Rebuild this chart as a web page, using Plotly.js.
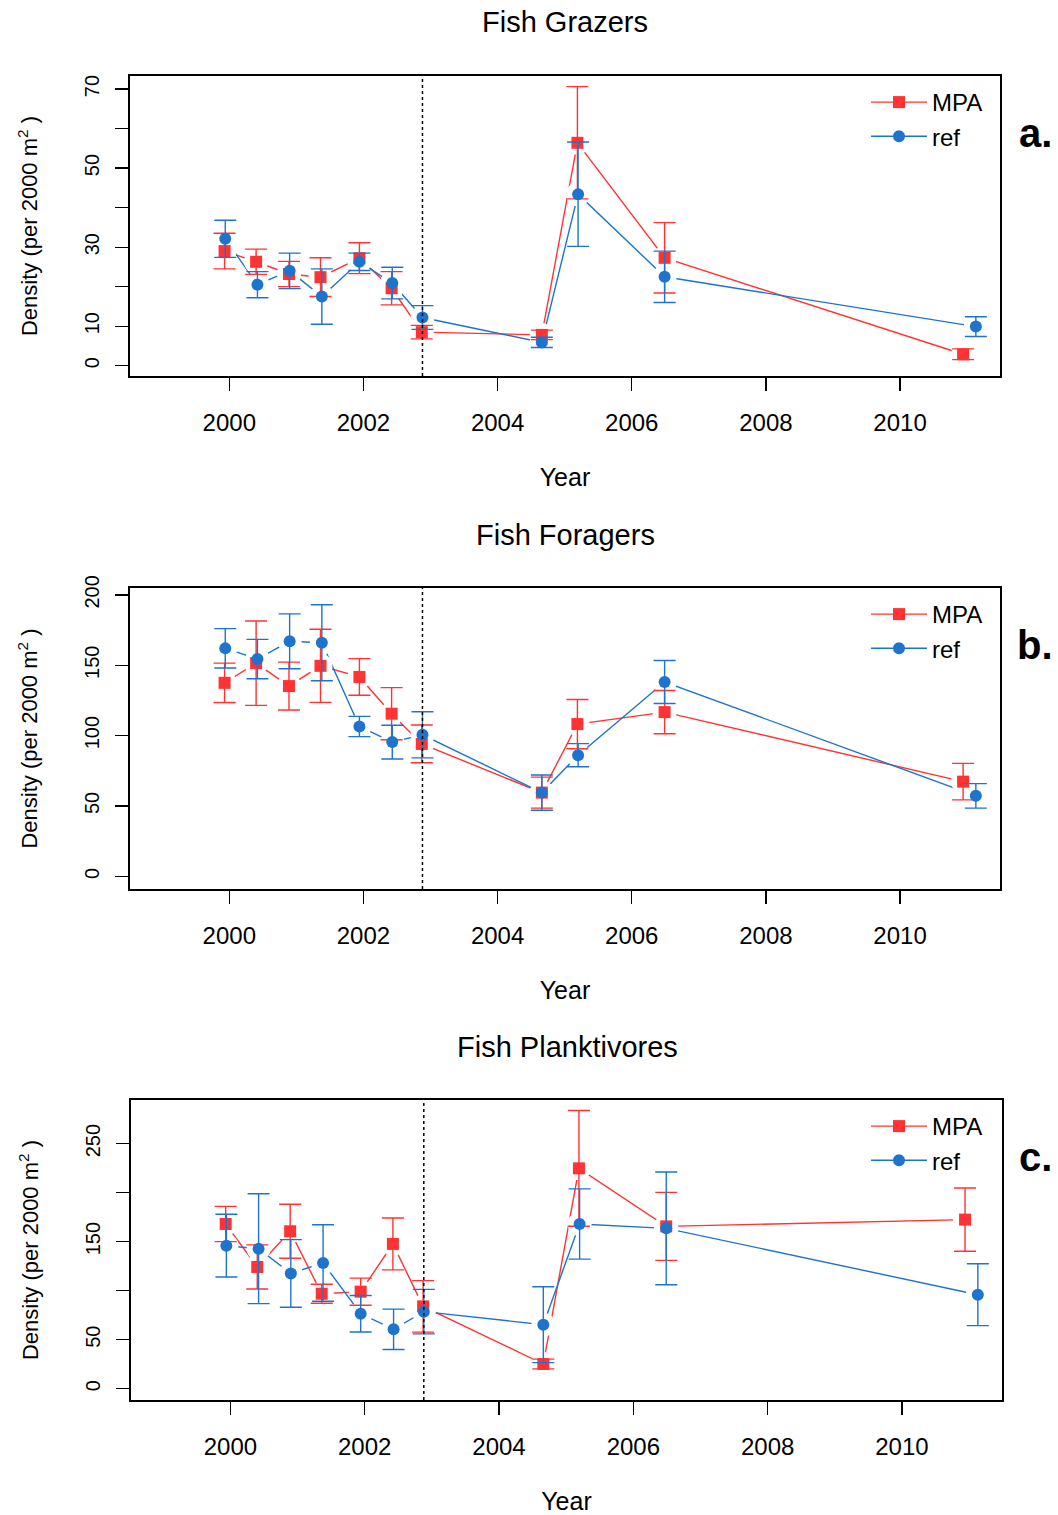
<!DOCTYPE html>
<html><head><meta charset="utf-8">
<script src="https://cdn.plot.ly/plotly-3.0.1.min.js"></script>
<style>html,body{margin:0;padding:0;background:#fff}</style>
</head><body>
<div id="chart" style="width:1058px;height:1515px"></div>
<script>
// ---- data ----
const panelTitles = ["Fish Grazers", "Fish Foragers", "Fish Planktivores"];
const panelLetters = ["a.", "b.", "c."];
const seriesNames = ["MPA", "ref"];
const xTitle = "Year";
const yTitle = "Density (per 2000 m<sup>2</sup> )";
const yearMPA = [1999.93, 2000.40, 2000.89, 2001.36, 2001.94, 2002.42, 2002.87, 2004.66, 2005.19, 2006.49, 2010.94];
const yearRef = [1999.94, 2000.42, 2000.90, 2001.38, 2001.94, 2002.43, 2002.88, 2004.66, 2005.20, 2006.49, 2011.13];
const mpaStart = 2002.88;

const grazersMPA   = [29.0, 26.3, 23.2, 22.4, 27.2, 19.6, 8.5, 7.8, 56.4, 27.3, 2.9];
const grazersMPAse = [4.5, 3.2, 3.2, 4.9, 3.9, 4.2, 1.7, 1.2, 14.2, 8.9, 1.35];
const grazersRef   = [32.1, 20.5, 24.0, 17.5, 26.3, 20.9, 12.2, 5.9, 43.4, 22.5, 9.9];
const grazersRefse = [4.7, 3.3, 4.5, 7.0, 2.2, 4.0, 3.0, 1.3, 13.2, 6.5, 2.5];

const foragersMPA   = [137.5, 151.5, 135.2, 149.6, 141.7, 115.6, 94.1, 59.5, 108.2, 116.7, 67.3];
const foragersMPAse = [14, 30, 17, 26, 13, 18.5, 13.4, 11, 17.5, 15.4, 13];
const foragersRef   = [162.0, 154.4, 167.0, 166.0, 106.5, 95.4, 100.6, 59.5, 86.1, 138.1, 57.2];
const foragersRefse = [14, 14, 19.5, 27, 7.2, 12, 16.4, 12.5, 8.2, 15.3, 8.7];

const plankMPA   = [168.0, 124.2, 160.6, 96.9, 99.0, 147.7, 84.0, 25.2, 224.8, 165.6, 172.5];
const plankMPAse = [18, 22.5, 27.5, 9.7, 13.8, 26.5, 26.3, 5, 59, 34.7, 32.3];
const plankRef   = [145.9, 142.8, 117.6, 128.3, 76.5, 60.6, 78.6, 65.3, 168.0, 163.6, 95.9];
const plankRefse = [32, 56, 34.5, 39, 18.6, 20.6, 22.7, 38.7, 35.8, 57.5, 31.5];

const xTicks = [2000, 2002, 2004, 2006, 2008, 2010];
const yTicksA = [0, 10, 30, 50, 70];
const yMinorA = [20, 40, 60];
const yTicksB = [0, 50, 100, 150, 200];
const yMinorB = [];
const yTicksC = [0, 50, 150, 250];
const yMinorC = [100, 200];

// ---- styling / layout ----
const W = 1058, H = 1515;
const RED = "#FF3333", BLUE = "#1E74CD";
const FONT = "Liberation Sans, Arial, Helvetica, sans-serif";
const panels = [
  {mpa: grazersMPA, mpase: grazersMPAse, ref: grazersRef, refse: grazersRefse,
   yt: yTicksA, ym: yMinorA, yr: [-2.6, 73.3], box: [130, 1000, 76, 376], cx: 565, titleY: 22},
  {mpa: foragersMPA, mpase: foragersMPAse, ref: foragersRef, refse: foragersRefse,
   yt: yTicksB, ym: yMinorB, yr: [-9.0, 204.9], box: [130, 1000, 588, 889], cx: 565, titleY: 535},
  {mpa: plankMPA, mpase: plankMPAse, ref: plankRef, refse: plankRefse,
   yt: yTicksC, ym: yMinorC, yr: [-11.5, 294.5], box: [131, 1002, 1100, 1400], cx: 567, titleY: 1047}
];

const px = v => v / W;
const py = v => 1 - v / H;

const traces = [];
const layout = {
  width: W, height: H,
  margin: {l: 0, r: 0, t: 0, b: 0},
  paper_bgcolor: "#fff", plot_bgcolor: "#fff",
  font: {family: FONT, color: "#000"},
  title: {text: panelTitles[0], x: px(panels[0].cx), xanchor: "center", xref: "paper",
          y: py(panels[0].titleY), yanchor: "middle", yref: "container", font: {size: 29, family: FONT}},
  showlegend: true,
  annotations: [], shapes: []
};

panels.forEach((p, i) => {
  const n = i === 0 ? "" : String(i + 1);
  const xa = "x" + n, ya = "y" + n;
  const lg = "legend" + n;
  const series = [
    {name: seriesNames[0], xs: yearMPA, ys: p.mpa, es: p.mpase, color: RED, symbol: "square", size: 12},
    {name: seriesNames[1], xs: yearRef, ys: p.ref, es: p.refse, color: BLUE, symbol: "circle", size: 12}
  ];
  // connecting lines (legend entries)
  series.forEach(s => traces.push({
    type: "scatter", mode: "lines+markers", name: s.name, x: s.xs, y: s.ys,
    xaxis: xa, yaxis: ya, legend: lg, hoverinfo: "skip",
    line: {color: s.color, width: 1.4}, marker: {color: s.color, symbol: s.symbol, size: s.size}
  }));
  // white halos that open the line around each point (R type = "b")
  series.forEach(s => traces.push({
    type: "scatter", mode: "markers", name: s.name, x: s.xs, y: s.ys, xaxis: xa, yaxis: ya,
    showlegend: false, hoverinfo: "skip",
    marker: {color: "#fff", symbol: "circle", size: 24, line: {width: 0}}
  }));
  // points with error bars
  series.forEach(s => traces.push({
    type: "scatter", mode: "markers", name: s.name, x: s.xs, y: s.ys,
    xaxis: xa, yaxis: ya, showlegend: false,
    marker: {color: s.color, symbol: s.symbol, size: s.size},
    error_y: {type: "data", array: s.es, visible: true, color: s.color, thickness: 1.4, width: 11}
  }));

  layout["xaxis" + n] = {
    domain: [px(p.box[0]), px(p.box[1])], anchor: ya, range: [1998.52, 2011.49],
    title: {text: xTitle, font: {size: 25, family: FONT}, standoff: 34},
    tickvals: xTicks, ticktext: xTicks.map(String), ticks: "outside", ticklen: 13, tickwidth: 1.3,
    tickcolor: "#000", showline: true, linecolor: "#000", linewidth: 2, mirror: true,
    showgrid: false, zeroline: false, tickfont: {size: 24, family: FONT}, ticklabelstandoff: 11
  };
  layout["yaxis" + n] = {
    domain: [py(p.box[3]), py(p.box[2])], anchor: xa, range: p.yr,
    title: {text: yTitle, font: {size: 22, family: FONT}, standoff: 37},
    tickvals: p.yt, ticktext: p.yt.map(String), ticks: "outside", ticklen: 13, tickwidth: 1.3, tickangle: -90,
    tickcolor: "#000", showline: true, linecolor: "#000", linewidth: 2, mirror: true,
    showgrid: false, zeroline: false, tickfont: {size: 20, family: FONT}, ticklabelstandoff: 8,
    minor: {tickvals: p.ym, ticks: "outside", ticklen: 13, tickwidth: 1.3, tickcolor: "#000", showgrid: false}
  };
  layout[lg] = {
    x: px(866), y: py(p.box[2] + 4), xanchor: "left", yanchor: "top", itemwidth: 56,
    bgcolor: "rgba(0,0,0,0)", borderwidth: 0, font: {size: 24, family: FONT}, tracegroupgap: 0
  };
  layout.shapes.push({type: "line", xref: xa, yref: ya + " domain", x0: mpaStart, x1: mpaStart, y0: 0, y1: 1,
    layer: "above", line: {color: "#000", width: 1.5, dash: "dot"}});
  if (i > 0) {
    layout.annotations.push(
      {text: panelTitles[i], xref: "paper", yref: "paper", x: px(p.cx), y: py(p.titleY), showarrow: false,
       xanchor: "center", yanchor: "middle", font: {size: 29, family: FONT}});
  }
  layout.annotations.push(
    {text: "<b>" + panelLetters[i] + "</b>", xref: "paper", yref: "paper", x: px(1035), y: py(p.box[2] + 57),
     showarrow: false, xanchor: "center", yanchor: "middle", font: {size: 40, family: FONT}}
  );
});

Plotly.newPlot("chart", traces, layout, {staticPlot: true, displayModeBar: false});
</script>
</body></html>
